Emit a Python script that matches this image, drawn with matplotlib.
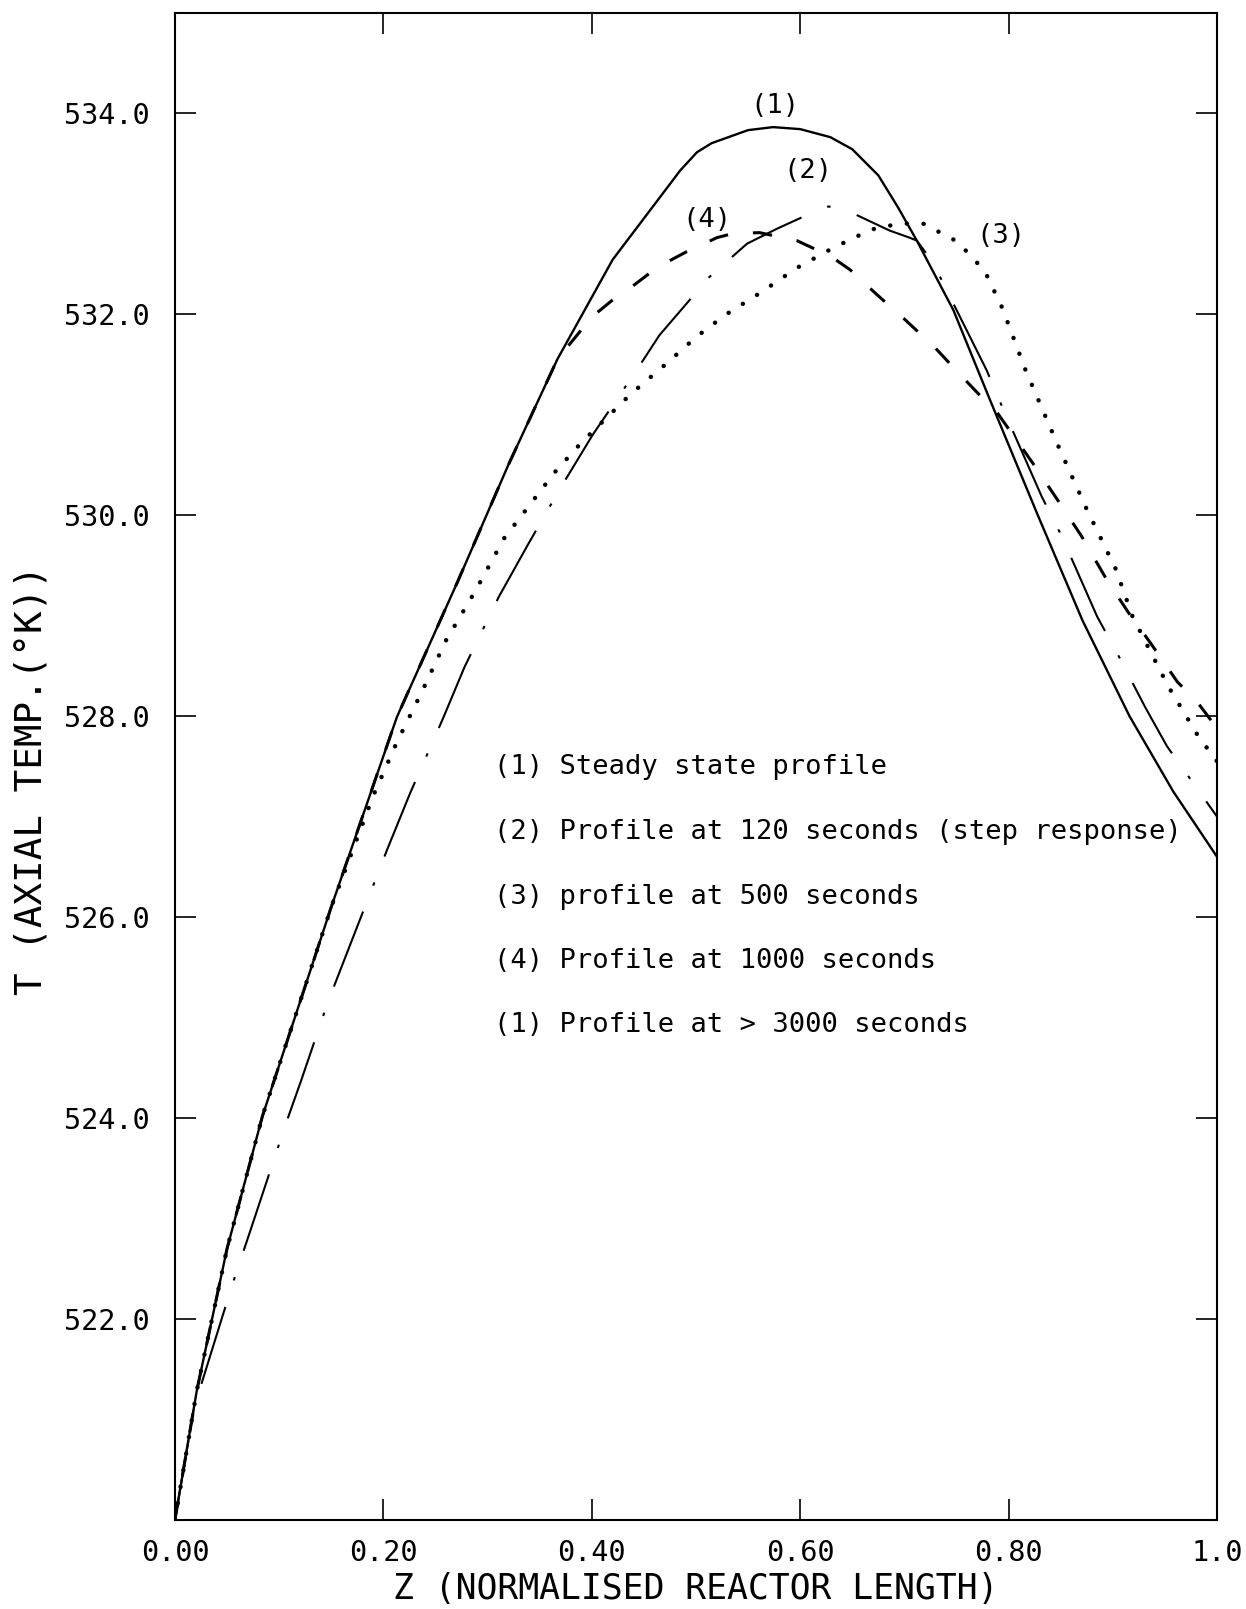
import matplotlib
matplotlib.use('Agg')
import matplotlib.pyplot as plt

plt.rcParams['lines.scale_dashes'] = False
mono = 'DejaVu Sans Mono'

# axial temperature profiles along the reactor, Z normalised 0..1
z_ss = [0.0, 0.021, 0.050, 0.084, 0.150, 0.213, 0.271, 0.320, 0.367, 0.420, 0.485, 0.501, 0.515,
        0.550, 0.574, 0.600, 0.629, 0.650, 0.675, 0.694, 0.712, 0.747, 0.782, 0.828, 0.871, 0.916, 0.958, 1.0]
t_ss = [520.0, 521.29, 522.70, 524.02, 526.10, 527.99, 529.33, 530.50, 531.55, 532.54, 533.43, 533.61, 533.70,
        533.83, 533.86, 533.84, 533.76, 533.64, 533.38, 533.06, 532.73, 532.04, 531.15, 530.00, 528.95, 528.00, 527.25, 526.60]

z_120 = [0.0, 0.021, 0.025, 0.055, 0.064, 0.074, 0.106, 0.121, 0.147, 0.159, 0.171, 0.204, 0.226,
         0.257, 0.278, 0.311, 0.339, 0.370, 0.401, 0.443, 0.465, 0.513, 0.549, 0.578, 0.616, 0.627, 0.641,
         0.686, 0.705, 0.712, 0.727, 0.779, 0.795, 0.832, 0.851, 0.885, 0.904, 0.931, 0.952, 1.0]
t_120 = [520.0, 521.29, 521.34, 522.34, 522.62, 522.93, 523.93, 524.37, 525.16, 525.48, 525.80, 526.68, 527.24,
         527.97, 528.49, 529.19, 529.71, 530.27, 530.80, 531.44, 531.79, 532.37, 532.70, 532.85, 533.03, 533.07, 533.05,
         532.83, 532.76, 532.73, 532.52, 531.44, 531.05, 530.18, 529.79, 528.99, 528.63, 528.09, 527.70, 527.00]

z_500 = [0.0, 0.021, 0.050, 0.084, 0.150, 0.190, 0.213, 0.236, 0.260, 0.288, 0.316, 0.339, 0.364, 0.390,
         0.437, 0.472, 0.500, 0.528, 0.563, 0.597, 0.632, 0.668, 0.695, 0.718, 0.751, 0.777, 0.794, 0.816,
         0.845, 0.874, 0.903, 0.919, 0.953, 0.982, 1.0]
t_500 = [520.0, 521.29, 522.70, 524.02, 526.10, 527.20, 527.74, 528.22, 528.75, 529.24, 529.77, 530.08, 530.42, 530.72,
         531.20, 531.51, 531.77, 531.99, 532.22, 532.46, 532.66, 532.84, 532.90, 532.90, 532.72, 532.43, 532.06, 531.45,
         530.75, 530.08, 529.46, 528.99, 528.30, 527.80, 527.55]

z_1000 = [0.0, 0.021, 0.050, 0.084, 0.150, 0.213, 0.271, 0.320, 0.367, 0.400, 0.420, 0.437, 0.456,
          0.471, 0.491, 0.504, 0.520, 0.535, 0.561, 0.597, 0.630, 0.648, 0.674, 0.699, 0.729, 0.756, 0.779,
          0.789, 0.823, 0.849, 0.870, 0.894, 0.915, 0.936, 0.962, 0.981, 1.0]
t_1000 = [520.0, 521.29, 522.70, 524.02, 526.10, 527.99, 529.33, 530.50, 531.55, 531.97, 532.14, 532.26, 532.41,
          532.51, 532.62, 532.68, 532.76, 532.80, 532.81, 532.73, 532.57, 532.44, 532.19, 531.96, 531.67, 531.37, 531.12,
          531.02, 530.52, 530.12, 529.79, 529.36, 529.03, 528.73, 528.34, 528.14, 527.88]

x_ticks = [0.0, 0.2, 0.4, 0.6, 0.8, 1.0]
x_ticklabels = ['0.00', '0.20', '0.40', '0.60', '0.80', '1.0']
y_ticks = [522, 524, 526, 528, 530, 532, 534]
y_ticklabels = ['%.1f' % v for v in y_ticks]

key_lines = ['(1) Steady state profile',
             '(2) Profile at 120 seconds (step response)',
             '(3) profile at 500 seconds',
             '(4) Profile at 1000 seconds',
             '(1) Profile at > 3000 seconds']
key_y = [527.49, 526.85, 526.20, 525.56, 524.93]

curve_tags = ['(1)', '(2)', '(3)', '(4)']
tag_z = [0.576, 0.607, 0.793, 0.511]
tag_t = [534.07, 533.42, 532.78, 532.94]

fig = plt.figure(figsize=(12.46, 16.09), dpi=100)
ax = fig.add_axes([0.1404, 0.0553, 0.8363, 0.9369])

ax.plot(z_1000, t_1000, color='black', lw=2.2, linestyle=(0, (14, 18)))
ax.plot(z_500, t_500, color='black', lw=3.2, linestyle=(0, (0.1, 12)), dash_capstyle='round')
ax.plot(z_120, t_120, color='black', lw=1.5, linestyle=(0, (58, 20, 2.5, 20)))
ax.plot(z_ss, t_ss, color='black', lw=1.7)

for tag, zx, ty in zip(curve_tags, tag_z, tag_t):
    ax.text(zx, ty, tag, family=mono, fontsize=19.5, ha='center', va='center')

for line, ty in zip(key_lines, key_y):
    ax.text(0.306, ty, line, family=mono, fontsize=19.5, ha='left', va='center')

ax.set_xlim(0, 1)
ax.set_ylim(520, 535)
ax.set_xticks(x_ticks)
ax.set_xticklabels(x_ticklabels, family=mono, fontsize=20.5)
ax.set_yticks(y_ticks)
ax.set_yticklabels(y_ticklabels, family=mono, fontsize=20.5)
ax.tick_params(axis='both', direction='in', length=15, width=1.2, top=True, right=True)
ax.tick_params(axis='x', pad=13.5)
ax.tick_params(axis='y', pad=18)
for sp in ax.spines.values():
    sp.set_linewidth(1.5)

ax.set_xlabel('Z (NORMALISED REACTOR LENGTH)', family=mono, fontsize=25, va='center')
ax.xaxis.set_label_coords(0.5, -0.0455)
ax.set_ylabel('T (AXIAL TEMP.(°K))', family=mono, fontsize=27)
ax.yaxis.set_label_coords(-0.12, 0.491)

fig.savefig('out.png', dpi=100)
